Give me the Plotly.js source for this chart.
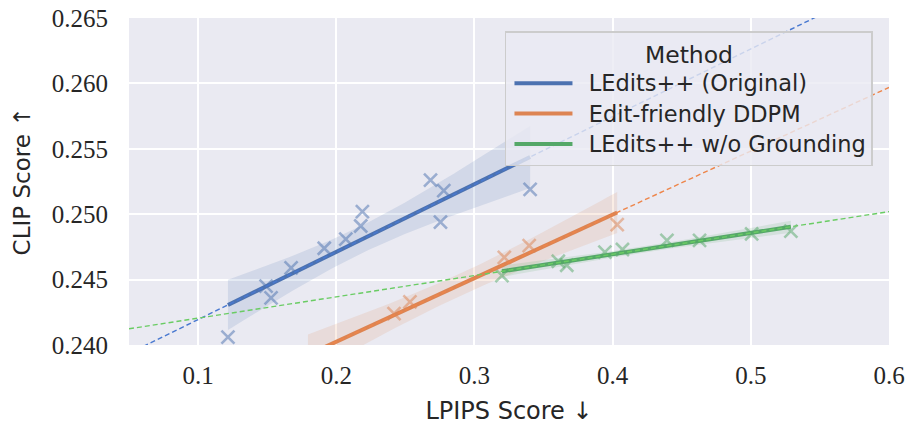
<!DOCTYPE html>
<html><head><meta charset="utf-8">
<script src="https://cdn.plot.ly/plotly-3.0.1.min.js"></script>
<style>html,body{margin:0;padding:0;background:#fff}#chart{width:911px;height:427px}</style>
</head><body><div id="chart"></div>
<script>
// ---- data ----
const methods = ["LEdits++ (Original)", "Edit-friendly DDPM", "LEdits++ w/o Grounding"];
const blueX = [0.1216, 0.1492, 0.1528, 0.1673, 0.1913, 0.2069, 0.2177, 0.2189, 0.2682, 0.2754, 0.2778, 0.3403];
const blueY = [0.2406, 0.2445, 0.2436, 0.2459, 0.2474, 0.2481, 0.2491, 0.2502, 0.2526, 0.2494, 0.2518, 0.2519];
const orangeX = [0.1795, 0.2418, 0.2533, 0.3216, 0.3396, 0.4033];
const orangeY = [0.2385, 0.2424, 0.2433, 0.2467, 0.2476, 0.2492];
const greenX = [0.3199, 0.3607, 0.3668, 0.3944, 0.4071, 0.4393, 0.4629, 0.5006, 0.5290];
const greenY = [0.2453, 0.2464, 0.2461, 0.2471, 0.2473, 0.2480, 0.2480, 0.2485, 0.2487];
const xTicks = [0.1, 0.2, 0.3, 0.4, 0.5, 0.6];
const xTickLabels = ["0.1", "0.2", "0.3", "0.4", "0.5", "0.6"];
const yTicks = [0.240, 0.245, 0.250, 0.255, 0.260, 0.265];
const yTickLabels = ["0.240", "0.245", "0.250", "0.255", "0.260", "0.265"];
const xRange = [0.05, 0.6];
const yRange = [0.240, 0.265];

// ---- styles ----
const deep = ["#4c72b0", "#dd8452", "#55a868"];
const muted = ["#4878d0", "#ee854a", "#6acc64"];
const bandFill = ["rgba(76,114,176,0.15)", "rgba(221,132,82,0.15)", "rgba(85,168,104,0.15)"];
const tTable = {4: 2.776, 7: 2.365, 10: 2.228};

function fit(xs, ys) {
  const n = xs.length;
  const mx = xs.reduce((a, b) => a + b, 0) / n;
  const my = ys.reduce((a, b) => a + b, 0) / n;
  let sxx = 0, sxy = 0;
  for (let i = 0; i < n; i++) { sxx += (xs[i] - mx) ** 2; sxy += (xs[i] - mx) * (ys[i] - my); }
  const b = sxy / sxx, a = my - b * mx;
  let sse = 0;
  for (let i = 0; i < n; i++) sse += (ys[i] - a - b * xs[i]) ** 2;
  const s = Math.sqrt(sse / (n - 2));
  return {a, b, s, n, mx, sxx, t: tTable[n - 2] || 2.0};
}

const series = [[blueX, blueY], [orangeX, orangeY], [greenX, greenY]];
const fits = series.map(([xs, ys]) => fit(xs, ys));

const scatterBand = [], lines = [], dashes = [];
series.forEach(([xs, ys], i) => {
  const f = fits[i];
  const x0 = Math.min(...xs), x1 = Math.max(...xs);
  scatterBand.push({
    x: xs, y: ys, type: "scatter", mode: "markers", showlegend: false, hoverinfo: "skip",
    marker: {symbol: "x-thin", size: 13, opacity: 0.5, color: deep[i], line: {color: deep[i], width: 2.6}}
  });
  const gx = [];
  for (let k = 0; k <= 60; k++) gx.push(x0 + (x1 - x0) * k / 60);
  const half = gx.map(x => f.t * f.s * Math.sqrt(1 / f.n + (x - f.mx) ** 2 / f.sxx));
  const up = gx.map((x, k) => f.a + f.b * x + half[k]);
  const lo = gx.map((x, k) => f.a + f.b * x - half[k]);
  scatterBand.push({
    x: gx.concat(gx.slice().reverse()), y: up.concat(lo.slice().reverse()),
    type: "scatter", mode: "lines", fill: "toself", fillcolor: bandFill[i],
    line: {width: 0}, showlegend: false, hoverinfo: "skip"
  });
  lines.push({
    x: [x0, x1], y: [f.a + f.b * x0, f.a + f.b * x1], type: "scatter", mode: "lines",
    name: '<span style="font-size:22.5px">\u2002' + methods[i] + '</span>',
    line: {color: deep[i], width: 4}, hoverinfo: "skip"
  });
  dashes.push({
    x: xRange, y: xRange.map(x => f.a + f.b * x), type: "scatter", mode: "lines",
    line: {color: muted[i], width: 1.4, dash: "5px,3px"}, showlegend: false, hoverinfo: "skip"
  });
});

const txt = "#262626";
const sans = "DejaVu Sans";
const layout = {
  width: 911, height: 427,
  margin: {l: 129, r: 22, t: 18, b: 82},
  paper_bgcolor: "#ffffff", plot_bgcolor: "#EAEAF2",
  showlegend: true,
  xaxis: {
    range: xRange, tickvals: xTicks, ticktext: xTickLabels,
    showgrid: true, gridcolor: "#ffffff", gridwidth: 2, zeroline: false, showline: false,
    ticks: "", ticklabelstandoff: 13,
    tickfont: {family: "Liberation Serif", size: 25, color: txt},
    title: {text: "LPIPS Score ↓", font: {family: sans, size: 24, color: txt}, standoff: 14}
  },
  yaxis: {
    range: yRange, tickvals: yTicks, ticktext: yTickLabels,
    showgrid: true, gridcolor: "#ffffff", gridwidth: 2, zeroline: false, showline: false,
    ticks: "", ticklabelstandoff: 20,
    tickfont: {family: "Liberation Serif", size: 25, color: txt},
    title: {text: "CLIP Score ↑", font: {family: sans, size: 23, color: txt}, standoff: 14}
  },
  legend: {
    x: 0.4947, y: 0.96, xanchor: "left", yanchor: "top",
    bgcolor: "rgba(234,234,242,0.8)", bordercolor: "#cccccc", borderwidth: 1.5,
    font: {family: sans, size: 21, color: txt},
    title: {text: "Method", side: "top center", font: {family: sans, size: 23.5, color: txt}},
    itemwidth: 58, tracegroupgap: 0, indentation: 3
  }
};

Plotly.newPlot("chart", scatterBand.concat(lines, dashes), layout, {staticPlot: true, displayModeBar: false});
</script>
</body></html>
